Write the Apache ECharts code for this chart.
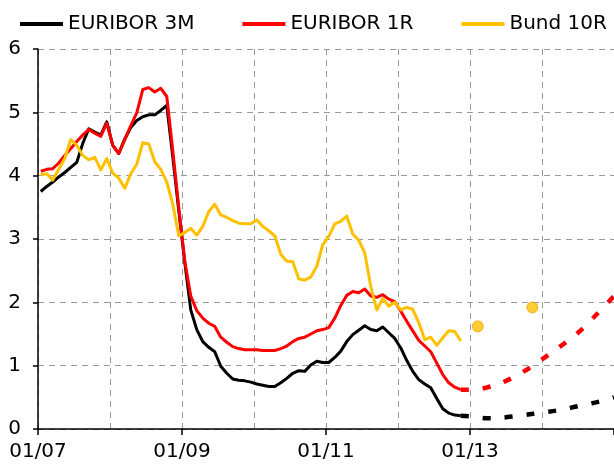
<!DOCTYPE html>
<html><head><meta charset="utf-8">
<script src="https://cdn.jsdelivr.net/npm/echarts@6/dist/echarts.min.js"></script>
<style>html,body{margin:0;padding:0;background:#fff}#c{width:614px;height:467px}</style>
</head><body><div id="c"></div>
<script>
const seriesNames = ['EURIBOR 3M', 'EURIBOR 1R', 'Bund 10R'];
const firstYear = 2007;
const xTickLabels = ['01/07', '01/09', '01/11', '01/13'];

// monthly values, Jan 2007 .. Nov 2012
const euribor3m = [
  3.75, 3.83, 3.90, 3.98, 4.05, 4.13, 4.21, 4.51, 4.74, 4.69, 4.64, 4.85,
  4.48, 4.35, 4.58, 4.76, 4.87, 4.93, 4.96, 4.96, 5.03, 5.11, 4.30, 3.45,
  2.63, 1.88, 1.57, 1.38, 1.29, 1.22, 0.99, 0.88, 0.79, 0.77, 0.76, 0.74,
  0.71, 0.69, 0.67, 0.67, 0.73, 0.80, 0.88, 0.92, 0.91, 1.01, 1.07, 1.05,
  1.05, 1.13, 1.23, 1.38, 1.49, 1.56, 1.63, 1.57, 1.55, 1.61, 1.52, 1.43,
  1.28, 1.08, 0.91, 0.78, 0.71, 0.65, 0.48, 0.32, 0.25, 0.22, 0.21
];
const euribor1r = [
  4.07, 4.10, 4.11, 4.20, 4.32, 4.43, 4.54, 4.64, 4.73, 4.67, 4.62, 4.83,
  4.48, 4.35, 4.57, 4.79, 4.99, 5.36, 5.39, 5.32, 5.38, 5.25, 4.40, 3.50,
  2.65, 2.10, 1.87, 1.75, 1.67, 1.62, 1.45, 1.37, 1.30, 1.27, 1.25, 1.25,
  1.25, 1.24, 1.24, 1.24, 1.27, 1.31, 1.38, 1.43, 1.45, 1.50, 1.55, 1.57,
  1.60, 1.75, 1.95, 2.11, 2.17, 2.15, 2.21, 2.10, 2.08, 2.12, 2.05, 2.01,
  1.86, 1.70, 1.55, 1.40, 1.31, 1.22, 1.04, 0.86, 0.73, 0.66, 0.62
];
const bund10r = [
  4.02, 4.03, 3.93, 4.10, 4.27, 4.57, 4.48, 4.32, 4.25, 4.29, 4.09, 4.27,
  4.04, 3.96, 3.80, 4.03, 4.18, 4.52, 4.50, 4.22, 4.10, 3.90, 3.55, 3.05,
  3.10, 3.17, 3.06, 3.20, 3.43, 3.55, 3.38, 3.34, 3.29, 3.25, 3.24, 3.24,
  3.30, 3.20, 3.13, 3.05, 2.76, 2.65, 2.64, 2.37, 2.35, 2.40, 2.57, 2.91,
  3.04, 3.24, 3.28, 3.36, 3.08, 2.98, 2.78, 2.25, 1.88, 2.06, 1.94, 2.00,
  1.88, 1.92, 1.89, 1.68, 1.41, 1.45, 1.32, 1.44, 1.55, 1.54, 1.39
];

// forecasts
const forecastDates = ['2012-11-15', '2013-01-01', '2013-04-01', '2013-07-01', '2013-10-01',
                       '2014-01-01', '2014-04-01', '2014-07-01', '2014-10-01', '2015-01-01'];
const forecast3m = [0.21, 0.20, 0.17, 0.185, 0.22, 0.26, 0.30, 0.36, 0.42, 0.50];
const forecast1r = [0.62, 0.62, 0.66, 0.76, 0.91, 1.10, 1.30, 1.52, 1.80, 2.10];
const bundForecastDates = ['2013-02-10', '2013-11-13'];
const bundForecast = [1.62, 1.92];

function dateToX(s) {
  const p = s.split('-').map(Number);
  return p[0] + (p[1] - 1 + (p[2] - 1) / 30.4) / 12;
}
function monthly(values) {
  return values.map((v, i) => {
    const y = firstYear + Math.floor(i / 12), m = i % 12 + 1;
    return [dateToX(y + '-' + String(m).padStart(2, '0') + '-15'), v];
  });
}
function dated(dates, values) { return values.map((v, i) => [dateToX(dates[i]), v]); }

const FONT = 'DejaVu Sans';
const colors = ['#000000', '#ff0000', '#ffc000'];
const grid = { color: '#9a9a9a', type: [6, 5], width: 1 };

function solid(idx, data) {
  return {
    name: seriesNames[idx], type: 'line', data: data, showSymbol: false, symbol: 'none',
    lineStyle: { color: colors[idx], width: 3, join: 'round' },
    itemStyle: { color: colors[idx] }, z: 3 + idx
  };
}
function dashed(idx, data) {
  return {
    name: seriesNames[idx], type: 'line', data: data, showSymbol: false, symbol: 'none', smooth: 0.4,
    lineStyle: { color: colors[idx], width: 4.5, type: [8, 14], cap: 'butt' },
    itemStyle: { color: colors[idx] }, z: 3 + idx
  };
}

const chart = echarts.init(document.getElementById('c'), null, { renderer: 'canvas' });
chart.setOption({
  animation: false,
  backgroundColor: '#fff',
  legend: {
    data: seriesNames, left: 15, top: 9, icon: 'rect', itemWidth: 43, itemHeight: 4, itemGap: 48,
    textStyle: { fontFamily: FONT, fontSize: 20, color: '#000' }, selectedMode: false
  },
  grid: { left: 38, right: 0, top: 49, bottom: 38, containLabel: false, outerBoundsMode: 'none' },
  xAxis: [
    { type: 'value', min: 2007, max: 2015, interval: 1, position: 'bottom',
      axisLine: { show: true, onZero: false, lineStyle: { color: '#000', width: 1.5 } },
      axisTick: { show: false }, axisLabel: { show: false },
      splitLine: { show: true, lineStyle: grid } },
    { type: 'value', min: 2007, max: 2015, interval: 2, position: 'bottom',
      axisLine: { show: false, onZero: false },
      axisTick: { show: true, length: 6, lineStyle: { color: '#000', width: 1.5 } },
      axisLabel: { fontFamily: FONT, fontSize: 20, color: '#000', margin: 13,
        formatter: v => xTickLabels[Math.round((v - 2007) / 2)] || '' },
      splitLine: { show: false } }
  ],
  yAxis: {
    type: 'value', min: 0, max: 6, interval: 1,
    axisLine: { show: true, lineStyle: { color: '#000', width: 1.5 } },
    axisTick: { show: true, length: 5, lineStyle: { color: '#000', width: 1.5 } },
    axisLabel: { fontFamily: FONT, fontSize: 20, color: '#000', margin: 17 },
    splitLine: { show: true, lineStyle: grid }
  },
  series: [
    solid(0, monthly(euribor3m)),
    solid(1, monthly(euribor1r)),
    solid(2, monthly(bund10r)),
    dashed(0, dated(forecastDates, forecast3m)),
    dashed(1, dated(forecastDates, forecast1r)),
    { name: seriesNames[2], type: 'scatter', data: dated(bundForecastDates, bundForecast),
      symbolSize: 11, itemStyle: { color: '#ffc000', borderColor: '#f0a000', borderWidth: 1 }, z: 6 }
  ]
});
</script></body></html>
